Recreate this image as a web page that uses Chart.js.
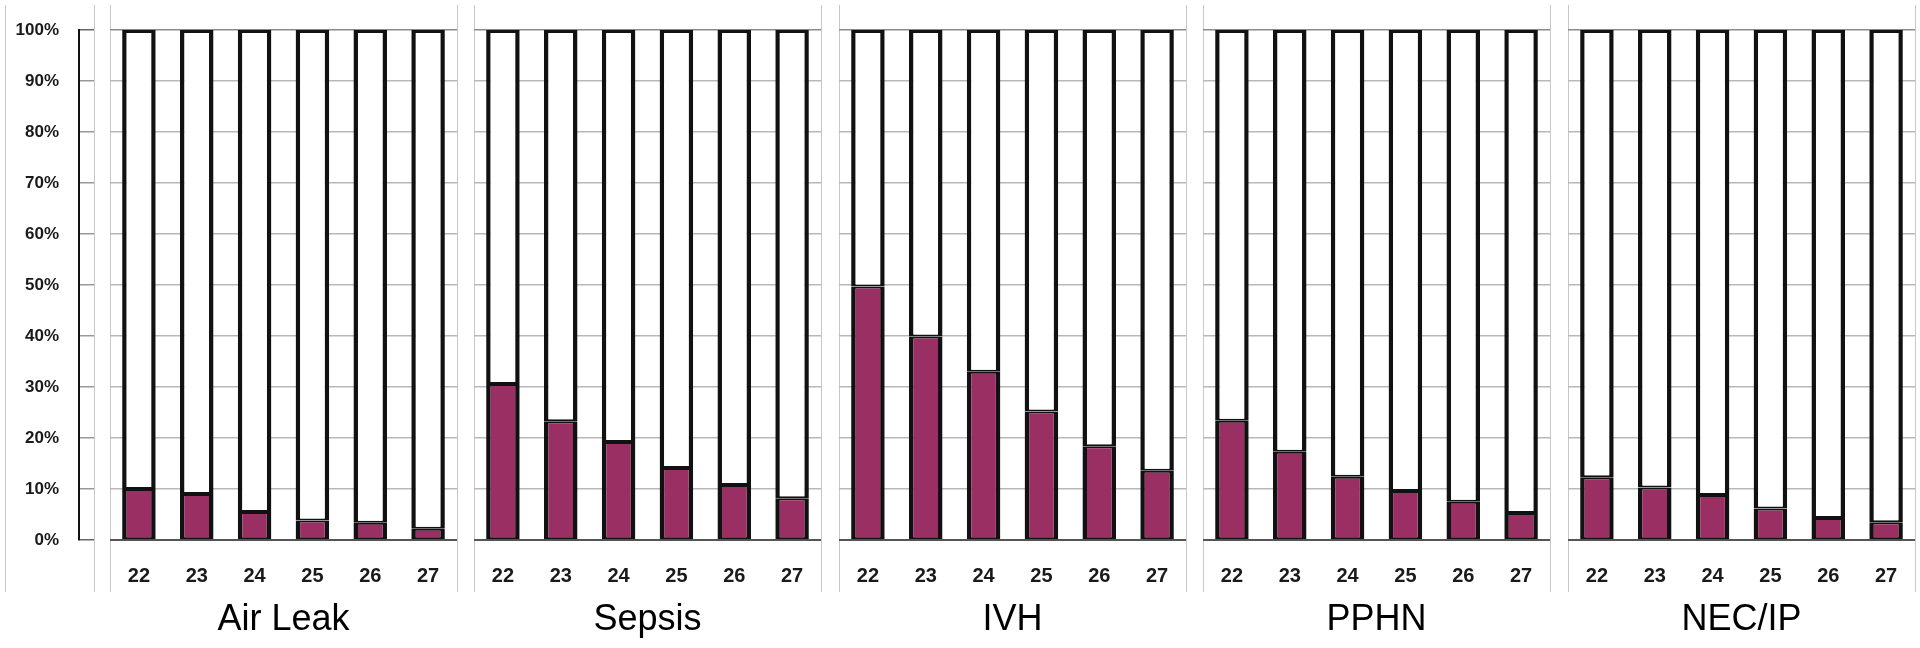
<!DOCTYPE html>
<html>
<head>
<meta charset="utf-8">
<script src="https://cdn.jsdelivr.net/npm/chart.js@4"></script>
<style>
  html, body { margin: 0; padding: 0; background: #fff; }
  #wrap { position: relative; width: 1920px; height: 648px; overflow: hidden; }
  canvas { position: absolute; top: 0; }
  .frame { position: absolute; top: 5px; height: 587px; border-left: 1px solid #c8c8c8; border-right: 1px solid #c8c8c8; }
</style>
</head>
<body>
<div id="wrap"></div>
<script>
// gestational age (weeks)
const categories = ['22', '23', '24', '25', '26', '27'];
const panelTitles = ['Air Leak', 'Sepsis', 'IVH', 'PPHN', 'NEC/IP'];

// incidence, % of infants
const airLeak = [10, 9, 5.5, 3.8, 3.4, 2.2];
const sepsis  = [30.6, 23.3, 19.2, 14.1, 10.8, 8.2];
const ivh     = [49.7, 39.9, 33, 25.2, 18.4, 13.6];
const pphn    = [23.4, 17.3, 12.4, 9.6, 7.5, 5.3];
const necIp   = [12.3, 10.3, 8.8, 6.2, 4.3, 3.5];

const yTickLabels = ['0%', '10%', '20%', '30%', '40%', '50%', '60%', '70%', '80%', '90%', '100%'];

const seriesList = [airLeak, sepsis, ivh, pphn, necIp];

const PURPLE = '#9a2f63';
const FONT = "'Liberation Sans', Arial, sans-serif";
const wrap = document.getElementById('wrap');

function makeCanvas(left, width) {
    const frame = document.createElement('div');
    frame.className = 'frame';
    frame.style.left = left + 'px';
    frame.style.width = (width - 1) + 'px';
    wrap.appendChild(frame);
    const c = document.createElement('canvas');
    c.width = width;
    c.height = 648;
    c.style.left = left + 'px';
    c.style.width = width + 'px';
    c.style.height = '648px';
    wrap.appendChild(c);
    return c;
}

function gridColor(ctx) {
    if (ctx.tick.value === 0) return 'rgba(0,0,0,0)';
    if (ctx.tick.value === 100) return '#8a8a8a';
    return '#b8b8b8';
}

// left axis strip with the percentage labels
const axisCanvas = makeCanvas(5, 89);
new Chart(axisCanvas, {
    type: 'bar',
    data: { labels: [''], datasets: [{ data: [] }] },
    options: {
        responsive: false,
        animation: false,
        layout: { padding: { top: 30, bottom: 108, left: 0, right: 0 } },
        plugins: { legend: { display: false }, tooltip: { enabled: false } },
        scales: {
            x: { display: false },
            y: {
                min: 0, max: 100,
                afterFit: s => { s.width = 74; },
                border: { display: true, color: '#111', width: 2 },
                grid: {
                    drawTicks: false,
                    color: ctx => (ctx.tick.value === 0 || ctx.tick.value === 100) ? '#666' : '#999',
                    lineWidth: 1.5
                },
                ticks: {
                    stepSize: 10,
                    padding: 20,
                    color: '#1a1a1a',
                    font: { family: FONT, size: 17, weight: 'bold' },
                    callback: v => yTickLabels[Math.round(v / 10)]
                }
            }
        }
    }
});

const panelLefts = [110, 474, 839, 1203, 1568];

seriesList.forEach((values, i) => {
    const canvas = makeCanvas(panelLefts[i], 347);
    const rest = values.map(v => 100 - v);
    new Chart(canvas, {
        type: 'bar',
        data: {
            labels: categories,
            datasets: [
                {
                    data: values,
                    backgroundColor: PURPLE,
                    borderColor: '#111',
                    borderWidth: { left: 4.5, right: 4.5, top: 2, bottom: 2 },
                    borderSkipped: false
                },
                {
                    data: rest,
                    backgroundColor: '#fff',
                    borderColor: '#111',
                    borderWidth: { left: 4.5, right: 4.5, top: 3, bottom: 2 },
                    borderSkipped: false
                }
            ]
        },
        options: {
            responsive: false,
            animation: false,
            layout: { padding: { top: 30, bottom: 0, left: 0, right: 0 } },
            datasets: { bar: { categoryPercentage: 1, barPercentage: 0.58 } },
            plugins: {
                legend: { display: false },
                tooltip: { enabled: false },
                title: {
                    display: true,
                    position: 'bottom',
                    text: panelTitles[i],
                    color: '#000',
                    font: { family: FONT, size: 36, weight: 'normal', lineHeight: 1.2 },
                    padding: { top: 8, bottom: 6 }
                }
            },
            scales: {
                x: {
                    stacked: true,
                    afterFit: s => { s.height = 648 - 540 - 57.2; },
                    grid: { display: false },
                    border: { display: true, color: '#555', width: 2 },
                    ticks: { padding: 16, color: '#1a1a1a', font: { family: FONT, size: 20, weight: 'bold' } }
                },
                y: {
                    stacked: true,
                    min: 0, max: 100,
                    afterFit: s => { s.width = 0; },
                    border: { display: false },
                    grid: { drawTicks: false, color: gridColor, lineWidth: 1.5 },
                    ticks: { display: false, stepSize: 10 }
                }
            }
        }
    });
});
</script>
</body>
</html>
